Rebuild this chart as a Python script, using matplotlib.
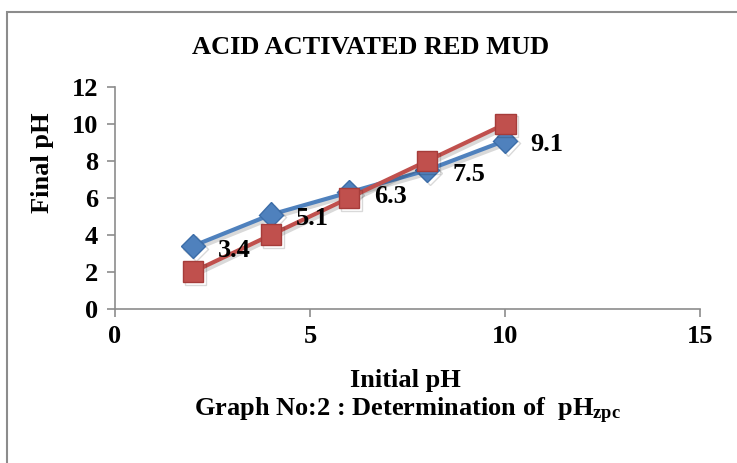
import matplotlib
matplotlib.use("Agg")
import matplotlib.pyplot as plt
import matplotlib.patheffects as pe
from matplotlib.patches import Rectangle

# data
initial_ph = [2, 4, 6, 8, 10]
final_ph = [3.4, 5.1, 6.3, 7.5, 9.1]
reference_ph = [2, 4, 6, 8, 10]
x_ticks = [0, 5, 10, 15]
y_ticks = [0, 2, 4, 6, 8, 10, 12]

BLUE = "#4F81BD"
RED = "#C0504D"
AXIS = "#8C8C8C"
FS = 19

plt.rcParams["font.family"] = "Liberation Serif"
plt.rcParams["font.weight"] = "bold"
plt.rcParams["mathtext.default"] = "regular"

fig = plt.figure(figsize=(7.37, 4.63), dpi=100)
ax = fig.add_axes([0.156, 0.333, 0.794, 0.479])

shadow = [pe.SimpleLineShadow(offset=(2, -2), alpha=0.15), pe.Normal()]

ax.plot(initial_ph, final_ph, color=BLUE, lw=3, marker="D", ms=12.5,
        mfc=BLUE, mec="#3C6DA8", mew=1, path_effects=shadow, zorder=3)
ax.plot(initial_ph, reference_ph, color=RED, lw=3, marker="s", ms=15,
        mfc=RED, mec="#A63C3A", mew=1, path_effects=shadow, zorder=4)

for x, y in zip(initial_ph, final_ph):
    ax.annotate(f"{y}", (x, y), xytext=(18, -3), textcoords="offset points",
                ha="left", va="center", fontsize=FS, fontweight="bold", zorder=5)

ax.set_xlim(0, 15)
ax.set_ylim(0, 12)
ax.set_xticks(x_ticks)
ax.set_yticks(y_ticks)
ax.tick_params(direction="out", length=6, width=1.2, color=AXIS,
               labelsize=FS, pad=6)
for lab in ax.get_xticklabels() + ax.get_yticklabels():
    lab.set_fontweight("bold")
for s in ["top", "right"]:
    ax.spines[s].set_visible(False)
for s in ["left", "bottom"]:
    ax.spines[s].set_color(AXIS)
    ax.spines[s].set_linewidth(1.2)

fig.text(0.058, 1 - 163 / 463, "Final pH", rotation=90, ha="center",
         va="center", fontsize=FS, fontweight="bold")
fig.text(0.503, 0.898, "ACID ACTIVATED RED MUD", ha="center", va="center",
         fontsize=FS, fontweight="bold")
fig.text(0.550, 0.178, "Initial pH", ha="center", va="center",
         fontsize=FS, fontweight="bold")
fig.text(0.553, 0.112, "Graph No:2 : Determination of  pH$_{zpc}$",
         ha="center", va="center", fontsize=FS, fontweight="bold")

# outer chart border (cropped at right and bottom)
fig.patches.append(Rectangle((7 / 737, -0.05), 1.1, 1 - 12 / 463 + 0.05,
                             transform=fig.transFigure, fill=False,
                             edgecolor=AXIS, lw=1.5))

fig.savefig("out.png", dpi=100)
